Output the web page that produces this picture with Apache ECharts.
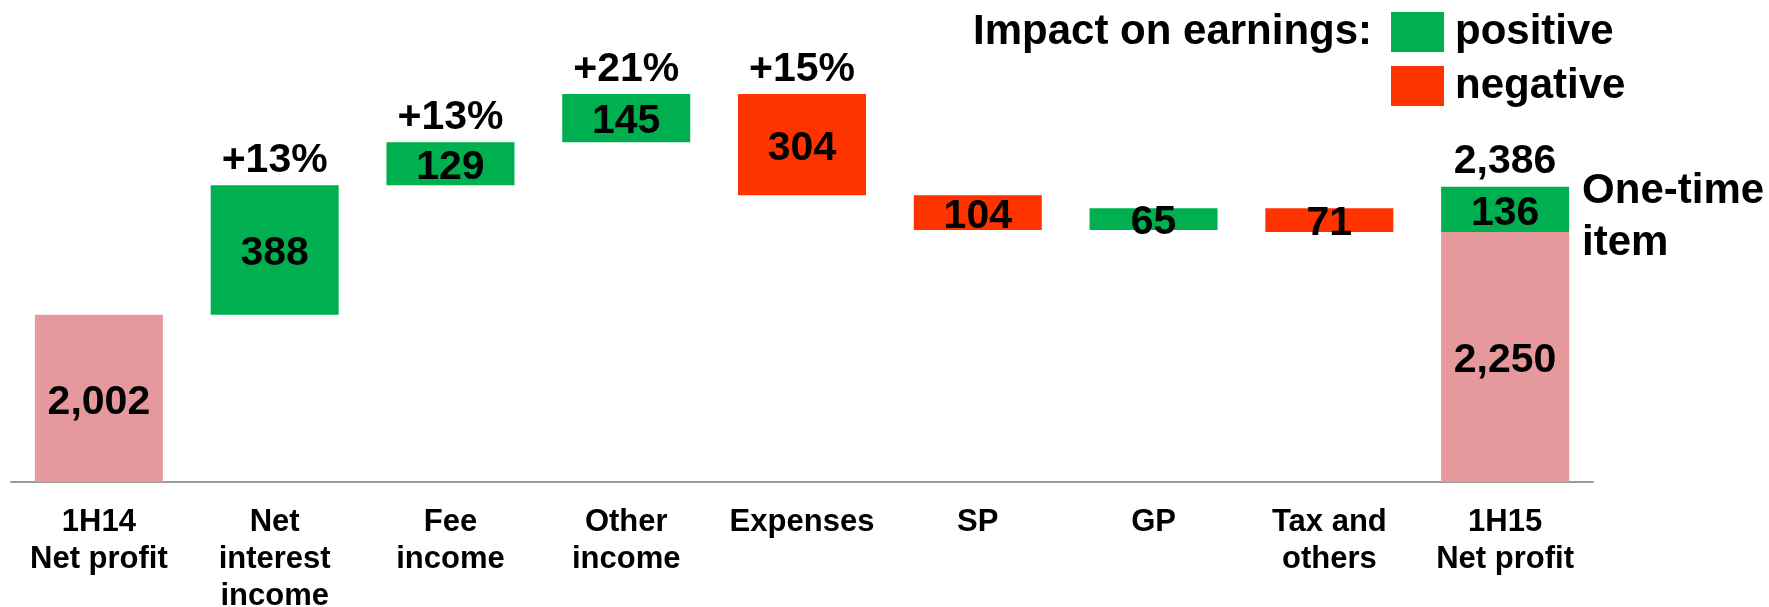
<!DOCTYPE html>
<html><head><meta charset="utf-8">
<script src="https://cdn.jsdelivr.net/npm/echarts@6/dist/echarts.min.js"></script>
<style>html,body{margin:0;padding:0;background:#fff}#c{width:1769px;height:607px}</style>
</head><body><div id="c"></div>
<script>
// ---- data ----
const categories = ['1H14\nNet profit', 'Net\ninterest\nincome', 'Fee\nincome', 'Other\nincome', 'Expenses', 'SP', 'GP', 'Tax and\nothers', '1H15\nNet profit'];
const startProfit = 2002;                          // 1H14 net profit
const changes = [388, 129, 145, -304, -104, 65, -71]; // NII, Fee, Other, Expenses, SP, GP, Tax
const endProfitExOneTime = 2250;                   // 1H15 net profit excl. one-time
const oneTimeItem = 136;
const growthLabels = ['+13%', '+13%', '+21%', '+15%']; // NII, Fee, Other, Expenses
const legendNames = ['positive', 'negative'];

// ---- build waterfall series ----
const helper = ['-'], pos = ['-'], neg = ['-'], totals = [startProfit];
const tops = [startProfit];
let run = startProfit;
changes.forEach(c => {
  if (c >= 0) { helper.push(run); pos.push(c); neg.push('-'); run += c; tops.push(run); }
  else { const top = run; run += c; helper.push(run); neg.push(-c); pos.push('-'); tops.push(top); }
  totals.push('-');
});
helper.push('-'); pos.push(oneTimeItem); neg.push('-'); totals.push(endProfitExOneTime);
tops.push(endProfitExOneTime + oneTimeItem);

const topLabelData = growthLabels.map((t, i) => ({ value: [i + 1, tops[i + 1]], label: { formatter: t } }));
topLabelData.push({ value: [8, tops[8]], label: { formatter: tops[8].toLocaleString('en-US') } });

const FONT = "'Liberation Sans', Arial, sans-serif";
const fmt = p => Number(p.value).toLocaleString('en-US');
const valLabel = { show: true, position: 'inside', offset: [0, 4], fontFamily: FONT, fontWeight: 'bold', fontSize: 41, color: '#000', formatter: fmt };

const chart = echarts.init(document.getElementById('c'));
chart.setOption({
  animation: false,
  backgroundColor: '#fff',
  title: {
    text: 'Impact on earnings:', left: 973, top: 11, padding: 0,
    textStyle: { fontFamily: FONT, fontWeight: 'bold', fontSize: 42, color: '#000' }
  },
  legend: {
    data: legendNames, orient: 'vertical', left: 1391, top: 11, padding: 0,
    itemWidth: 53, itemHeight: 40, itemGap: 12, icon: 'rect', selectedMode: false,
    textStyle: { fontFamily: FONT, fontWeight: 'bold', fontSize: 42, color: '#000', padding: [0, 0, 0, 6] }
  },
  grid: { left: 11, right: 176, top: 82, bottom: 125, containLabel: false, outerBoundsMode: 'none' },
  xAxis: {
    type: 'category', data: categories,
    axisLine: { lineStyle: { color: '#999', width: 2 } },
    axisTick: { show: false },
    axisLabel: { interval: 0, margin: 22, fontFamily: FONT, fontWeight: 'bold', fontSize: 31, lineHeight: 37, color: '#000' }
  },
  yAxis: { type: 'value', min: 1500, max: 2700, show: false, splitLine: { show: false } },
  series: [
    { name: 'helper', type: 'bar', stack: 'w', data: helper, barWidth: 128, itemStyle: { color: 'transparent' }, silent: true },
    { name: 'total', type: 'bar', stack: 'w', data: totals, barWidth: 128, itemStyle: { color: '#E5999C' }, label: valLabel },
    { name: 'positive', type: 'bar', stack: 'w', data: pos, barWidth: 128, itemStyle: { color: '#00B050' }, label: valLabel },
    { name: 'negative', type: 'bar', stack: 'w', data: neg, barWidth: 128, itemStyle: { color: '#FF3300' }, label: valLabel },
    {
      name: 'topLabels', type: 'scatter', data: topLabelData, symbolSize: 0, silent: true,
      itemStyle: { opacity: 1 },
      label: { show: true, position: 'top', distance: 4, fontFamily: FONT, fontWeight: 'bold', fontSize: 41, color: '#000', opacity: 1 }
    },
    {
      name: 'note', type: 'scatter', data: [[8, endProfitExOneTime + oneTimeItem / 2]], symbolSize: 0, silent: true,
      itemStyle: { opacity: 1 },
      label: { show: true, position: 'right', distance: 77, offset: [0, 8], formatter: 'One-time\nitem', fontFamily: FONT, fontWeight: 'bold', fontSize: 42, lineHeight: 52, color: '#000', opacity: 1, align: 'left' }
    }
  ]
});
</script>
</body></html>
